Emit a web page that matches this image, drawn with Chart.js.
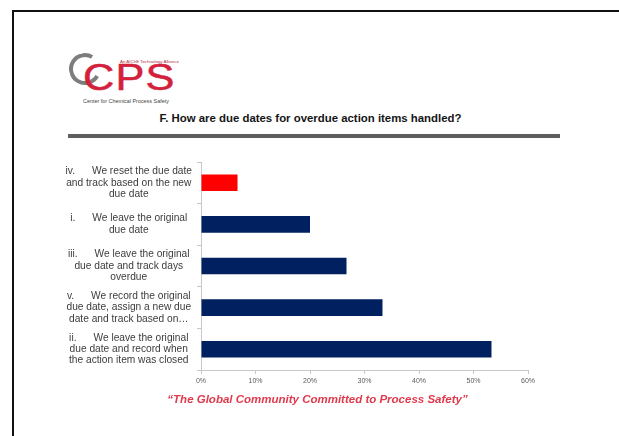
<!DOCTYPE html>
<html>
<head>
<meta charset="utf-8">
<script src="https://cdn.jsdelivr.net/npm/chart.js@4"></script>
<style>
  html, body { margin: 0; padding: 0; background: #fff; }
  body { width: 619px; height: 436px; position: relative; overflow: hidden; font-family: "Liberation Sans", Arial, sans-serif; }
  #frame { position: absolute; left: 12px; top: 10px; right: -10px; bottom: -10px; border-left: 2px solid #111; border-top: 2px solid #111; }
  #chart { position: absolute; left: 0; top: 0; }
  .ring { position: absolute; left: 69px; top: 53px; width: 24px; height: 24px; border: 4px solid #7d7d7d; border-radius: 50%; border-right-color: transparent; transform: rotate(-15deg); }
  .cps { position: absolute; left: 83px; top: 56px; font-size: 37px; line-height: 44px; color: #d3203b; letter-spacing: 1px; transform: scaleX(1.17); transform-origin: left top; -webkit-text-stroke: 0.5px #d3203b; }
  .tiny { position: absolute; white-space: nowrap; transform-origin: left top; }
  .alliance { left: 120px; top: 59px; font-size: 8px; color: #b03040; transform: scale(0.55); }
  .center { left: 83px; top: 98px; font-size: 9px; color: #444; transform: scale(0.6); }
  #title { position: absolute; left: 0; width: 619px; top: 112px; text-align: center; padding-left: 1px; font-weight: bold; font-size: 11.4px; color: #151515; }
  #rule { position: absolute; left: 68px; top: 134px; width: 492px; height: 4px; background: #5e5e5e; }
  #footer { position: absolute; left: 8px; width: 619px; top: 393px; text-align: center; font-weight: bold; font-style: italic; font-size: 11.5px; color: #e0394b; }
</style>
</head>
<body>
<div id="frame"></div>
<div class="ring"></div>
<div class="cps">CPS</div>
<div class="tiny alliance">An AIChE Technology Alliance</div>
<div class="tiny center">Center for Chemical Process Safety</div>
<div id="title">F. How are due dates for overdue action items handled?</div>
<div id="rule"></div>
<canvas id="chart" width="619" height="436"></canvas>
<div id="footer">“The Global Community Committed to Process Safety”</div>
<script>
// answer options, top to bottom
var categories = [
  ["iv.      We reset the due date", "and track based on the new", "due date"],
  ["i.      We leave the original", "due date"],
  ["iii.      We leave the original", "due date and track days", "overdue"],
  ["v.      We record the original", "due date, assign a new due", "date and track based on…"],
  ["ii.      We leave the original", "due date and record when", "the action item was closed"]
];
// share of respondents, percent
var shares = [6.7, 20, 26.7, 33.3, 53.3];
var xTicks = [0, 10, 20, 30, 40, 50, 60];

var barColors = ["#ff0000", "#002060", "#002060", "#002060", "#002060"];

document.addEventListener("DOMContentLoaded", function () {
  var ctx = document.getElementById("chart").getContext("2d");

  var data = {
    labels: categories,
    datasets: [
      {
        data: shares,
        backgroundColor: barColors,
        borderWidth: 0,
        categoryPercentage: 0.8,
        barPercentage: 0.5,
      },
    ],
  };

  var options = {
    indexAxis: "y",
    responsive: false,
    animation: false,
    layout: {
      padding: { left: 40, right: 91, top: 162, bottom: 0 },
    },
    plugins: {
      legend: { display: false },
      tooltip: { enabled: false },
    },
    scales: {
      x: {
        min: xTicks[0],
        max: xTicks[xTicks.length - 1],
        afterFit: function (scale) {
          scale.height = 66;
        },
        afterBuildTicks: function (scale) {
          scale.ticks = xTicks.map(function (v) { return { value: v }; });
        },
        grid: {
          drawOnChartArea: false,
          color: "#c8c8c8",
          tickLength: 4,
        },
        border: { color: "#c8c8c8", width: 1 },
        ticks: {
          padding: 3,
          color: "#5a5a5a",
          font: { family: "Liberation Sans", size: 7 },
          callback: function (v) { return v + "%"; },
        },
      },
      y: {
        afterFit: function (scale) {
          scale.width = 161;
        },
        grid: {
          drawOnChartArea: false,
          color: "#c8c8c8",
          tickLength: 4,
        },
        border: { color: "#c8c8c8", width: 1 },
        ticks: {
          crossAlign: "center",
          padding: 5,
          color: "#3c3c3c",
          font: { family: "Liberation Sans", size: 10.2, lineHeight: 1.12 },
        },
      },
    },
  };

  new Chart(ctx, {
    type: "bar",
    data: data,
    options: options,
  });
});
</script>
</body>
</html>
